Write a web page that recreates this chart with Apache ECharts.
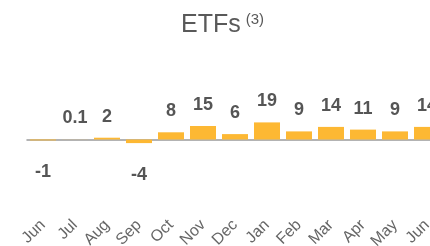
<!DOCTYPE html>
<html>
<head>
<meta charset="utf-8">
<script src="https://cdn.jsdelivr.net/npm/echarts@6/dist/echarts.min.js"></script>
<style>
  html, body { margin: 0; padding: 0; background: #fff; }
  #chart { width: 430px; height: 246px; }
</style>
</head>
<body>
<div id="chart"></div>
<script>
// 月份
const months = ['Jun', 'Jul', 'Aug', 'Sep', 'Oct', 'Nov', 'Dec', 'Jan', 'Feb', 'Mar', 'Apr', 'May', 'Jun']
// ETF 数值
const flows = [-1, 0.1, 2, -4, 8, 15, 6, 19, 9, 14, 11, 9, 14]

const chart = echarts.init(document.getElementById('chart'), null, { renderer: 'canvas' })

const option = {
  animation: false,
  title: {
    text: '{a|ETFs} {b|(3)}',
    left: 181,
    top: 12,
    padding: 0,
    textStyle: {
      rich: {
        a: { fontFamily: 'Liberation Sans', fontSize: 25, fontWeight: 'normal', color: '#595959' },
        b: { fontFamily: 'Liberation Sans', fontSize: 15, fontWeight: 'normal', color: '#595959', padding: [0, 0, 12, 0] }
      }
    }
  },
  grid: {
    left: 27,
    right: -13,
    top: 112.5,
    bottom: 79.5,
    containLabel: false,
    outerBoundsMode: 'none'
  },
  xAxis: {
    type: 'category',
    data: months,
    axisLine: { onZero: true, lineStyle: { color: '#9a9a9a', width: 1.5 } },
    axisTick: { show: false },
    axisLabel: {
      rotate: 45,
      margin: 56,
      interval: 0,
      color: '#666',
      fontFamily: 'Liberation Sans',
      fontSize: 16
    }
  },
  yAxis: {
    type: 'value',
    min: -30,
    max: 30,
    show: false
  },
  series: [
    {
      type: 'bar',
      data: flows.map(v => ({
        value: v,
        label: { position: v < 0 ? 'bottom' : 'top', distance: v < 0 ? 23 : 12 }
      })),
      barWidth: 26,
      itemStyle: { color: '#fdb833' },
      label: {
        show: true,
        color: '#555',
        fontFamily: 'Liberation Sans',
        fontWeight: 'bold',
        fontSize: 18
      }
    }
  ]
}

chart.setOption(option)
</script>
</body>
</html>
